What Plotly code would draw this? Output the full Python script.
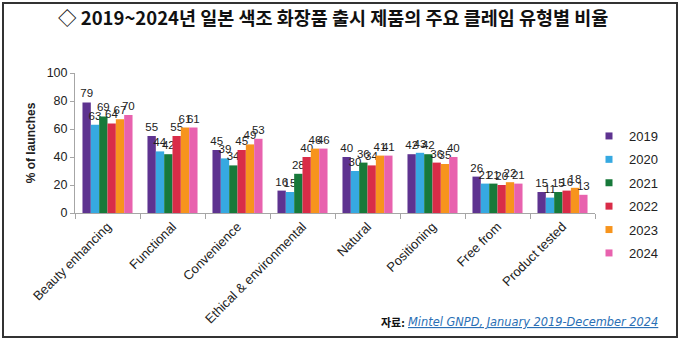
import plotly.graph_objects as go

# Claim categories (x axis)
categories = [
    "Beauty enhancing", "Functional", "Convenience", "Ethical & environmental",
    "Natural", "Positioning", "Free from", "Product tested",
]

# Share of launches (%) per year
years = ["2019", "2020", "2021", "2022", "2023", "2024"]
v2019 = [79, 55, 45, 16, 40, 42, 26, 15]
v2020 = [63, 44, 39, 15, 30, 43, 21, 11]
v2021 = [69, 42, 34, 28, 36, 42, 21, 15]
v2022 = [64, 55, 45, 40, 34, 36, 20, 16]
v2023 = [67, 61, 49, 46, 41, 35, 22, 18]
v2024 = [70, 61, 53, 46, 41, 40, 21, 13]
series = [v2019, v2020, v2021, v2022, v2023, v2024]

colors = ["#5E3390", "#36A9E1", "#17793A", "#D92C48", "#F7941D", "#E862AE"]

W, H = 680, 340
L, R, T, B = 75, 85, 73, 127
pw, ph = W - L - R, H - T - B


def px_x(x):
    return (x - L) / pw


def px_y(y):
    return (H - B - y) / ph


fig = go.Figure()
for yr, vals, col in zip(years, series, colors):
    fig.add_trace(go.Bar(
        x=categories, y=vals, name=yr, marker_color=col, marker_line_width=0,
        text=[str(v) for v in vals], textposition="outside", textangle=0,
        constraintext="none", cliponaxis=False,
        textfont=dict(family="Liberation Sans, Arial", size=11.5, color="#222222"),
        showlegend=False,
    ))
    # legend entry with a small square swatch
    fig.add_trace(go.Scatter(
        x=[None], y=[None], mode="markers", name=yr, legendgroup=yr,
        marker=dict(symbol="square", size=7, color=col),
    ))

fig.update_layout(
    width=W, height=H,
    margin=dict(l=L, r=R, t=T, b=B, autoexpand=False),
    paper_bgcolor="white", plot_bgcolor="white",
    barmode="group", bargap=0.23, bargroupgap=0,
    font=dict(family="Liberation Sans, Arial", size=12, color="#222222"),
    title=dict(
        text="◇ 2019~2024년 일본 색조 화장품 출시 제품의 주요 클레임 유형별 비율",
        x=0.49, xanchor="center", y=1 - 19 / H, yanchor="middle",
        font=dict(family="Noto Sans CJK KR", size=18.5, color="#111111", weight="bold"),
    ),
    legend=dict(
        x=px_x(589), xanchor="left", y=px_y(121), yanchor="top",
        font=dict(family="Liberation Sans, Arial", size=13, color="#222222"),
        tracegroupgap=3.5, bgcolor="rgba(0,0,0,0)", itemwidth=30, maxheight=220,
    ),
    xaxis=dict(
        showline=True, linecolor="#A6A6A6", linewidth=1,
        ticks="outside", tickson="boundaries", ticklen=5, tickcolor="#A6A6A6",
        tickangle=-45, tickfont=dict(size=13, color="#222222"),
        showgrid=False,
    ),
    yaxis=dict(
        range=[0, 100], dtick=20, showline=True, linecolor="#A6A6A6", linewidth=1,
        ticks="outside", ticklen=4, tickcolor="#A6A6A6", showgrid=False, zeroline=False,
        tickfont=dict(size=12.5, color="#222222"),
        title=dict(text="<b>% of launches</b>", standoff=8,
                   font=dict(size=12, color="#222222")),
    ),
    shapes=[dict(
        type="rect", xref="paper", yref="paper",
        x0=px_x(3), x1=px_x(677), y0=px_y(337), y1=px_y(3),
        line=dict(color="#333333", width=2), fillcolor="rgba(0,0,0,0)", layer="above",
    )],
    annotations=[
        dict(text="<b>자료:</b>", xref="paper", yref="paper",
             x=px_x(407), y=px_y(322), xanchor="right", yanchor="middle",
             showarrow=False, font=dict(family="Noto Sans CJK KR", size=11, color="#111111")),
        dict(text="<i>Mintel GNPD, January 2019-December 2024</i>", xref="paper", yref="paper",
             x=px_x(406), y=px_y(322), xanchor="left", yanchor="middle",
             showarrow=False,
             font=dict(family="DejaVu Sans", size=11.4, color="#2A6FB5", lineposition="under")),
    ],
)

fig.write_html("out.html")
